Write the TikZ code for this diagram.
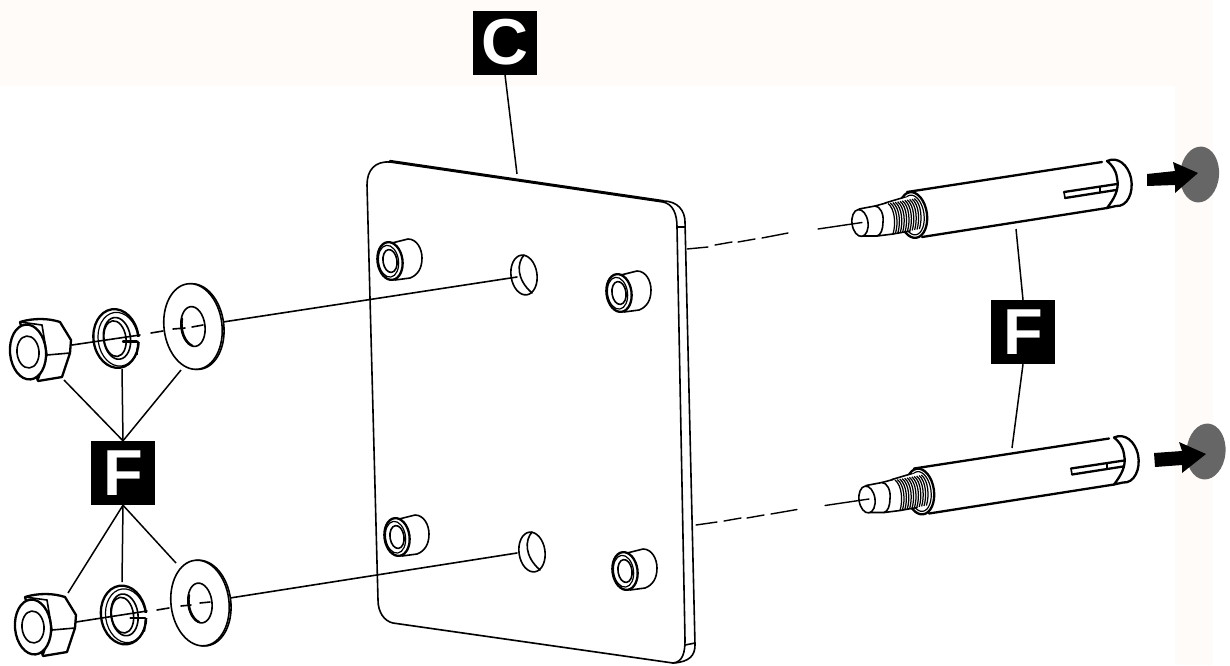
\documentclass[tikz,border=0pt]{standalone}
\usepackage{fontspec}
\setmainfont{Liberation Sans}
\definecolor{tint}{HTML}{FFFBF9}
\definecolor{disc}{HTML}{666666}
\tikzset{
  x=1pt,y=-1pt,
  ln/.style={line width=1.6pt,line cap=round,line join=round},
  thk/.style={line width=2.3pt,line cap=round,line join=round},
  thn/.style={line width=1.4pt,line cap=round},
  lead/.style={line width=1.5pt},
  tag/.style={fill=black,text=white,minimum size=64pt,inner sep=0pt,font=\fontsize{65}{65}\selectfont\bfseries},
  standoff/.pic={
    \draw[ln,fill=white] (2,-18) -- (18,-22) .. controls (27,-22) and (32,-12) .. (32,-3)
      .. controls (32,7) and (28,14) .. (20,17) -- (5,19);
    \draw[thk,fill=white,rotate=8] (0,0) circle[x radius=12.5,y radius=19];
    \draw[line width=1.2pt,rotate=8] (-1.5,0) circle[x radius=10,y radius=16];
    \draw[ln,rotate=8] (0,0) circle[x radius=7,y radius=11.5];
  },
  hole/.pic={
    \draw[ln,rotate=8] (0,0) circle[x radius=13,y radius=20];
    \draw[ln] (0,-20) .. controls (-7,-12) and (-8,4) .. (8,18);
  },
  flatw/.pic={
    \draw[ln,fill=white,rotate=7] (1.8,0.3) circle[x radius=29,y radius=43];
    \draw[ln,fill=white,rotate=7] (0,0) circle[x radius=29,y radius=43];
    \draw[ln,rotate=7] (0,0) circle[x radius=12,y radius=20];
    \draw[thk] (-11,-8) .. controls (-13,4) and (-8,16) .. (-1,19);
  },
  lockw/.pic={
    \draw[thk,fill=white,rotate=8] (0,0) circle[x radius=22.5,y radius=29.5];
    \draw[line width=1.2pt,rotate=8] (2,1) circle[x radius=20,y radius=27];
    \draw[ln,rotate=8] (1,0) circle[x radius=13.5,y radius=21];
    \draw[ln,rotate=8] (-1,0) circle[x radius=11,y radius=18];
    \fill[white] (16,-2) rectangle (24.5,3);
    \draw[thk] (7,3) -- (21,3);
    \draw[ln] (22,3) -- (21,16);
  },
  nutpic/.pic={
    \draw[thk,fill=white] (0,0) -- (-8,-30) .. controls (5,-34) and (20,-34) .. (32,-30) -- (43,-12) -- (42,1) -- (34,25) -- (10,29) -- cycle;
    \draw[ln] (-8,-30) -- (14,-27);
    \draw[ln] (14,-27) -- (19,3) -- (10,28);
    \draw[ln] (19,3) -- (42,1);
    \draw[thk,fill=white,rotate=5] (0,0) circle[x radius=18,y radius=27.5];
    \draw[ln,rotate=5] (0,0) circle[x radius=11,y radius=16];
  },
  anchorpic/.pic={
    % sleeve
    \draw[thk] (907,192) -- (1102,162);
    \draw[thk] (922,237) -- (1107,208);
    \draw[thk,fill=white] (1107,161) .. controls (1118,156) and (1128,165) .. (1131,178)
       .. controls (1134,193) and (1127,207) .. (1116,206) -- (1107,208)
       .. controls (1113,200) and (1120,190) .. (1117,178) .. controls (1116,170) and (1112,165) .. (1107,161);
    % slot
    \draw[thk] (1064,192) -- (1117,184);
    \draw[thk] (1065,198) -- (1116,190);
    \draw[ln] (1064,192) -- (1065,198);
    \draw[ln] (1100,187) -- (1100,192);
    % rear face
    \draw[thk,fill=white,rotate around={8:(913,215)}] (913,215) circle[x radius=14,y radius=23];
    \draw[line width=1.2pt,rotate around={8:(913,215)}] (913,215) circle[x radius=11,y radius=20];
    % thread body
    \fill[white] (885,203) -- (912,196) -- (921,215) -- (917,230) -- (893,234) -- cycle;
    \draw[ln] (885,203) -- (905,197);
    \draw[ln] (893,234) -- (910,231);
    \foreach \i in {0,...,11}
      \draw[line width=1.25pt] ({888+2.4*\i},{203.5-.45*\i}) .. controls ({895+2.4*\i},{209-.45*\i}) and ({896+2.4*\i},{224-.45*\i}) .. ({893+2.4*\i},{234-.45*\i});
    % neck and tip
    \draw[ln,fill=white] (859,209) -- (875,206) .. controls (880,206) and (884,214) .. (883,222)
       .. controls (883,229) and (881,235) .. (877,236) -- (863,236);
    \draw[ln] (875,206) -- (886,203);
    \draw[ln] (877,236) -- (893,234);
    \draw[ln,fill=white,rotate around={8:(860,223)}] (860,223) circle[x radius=8,y radius=13.5];
    \draw[thn] (818,229) -- (862,222.5);
  }
}
\begin{document}
\begin{tikzpicture}
\useasboundingbox (0,0) rectangle (1230,665);
\fill[white] (0,0) rectangle (1230,665);
\fill[tint] (0,0) rectangle (1213,86);
\fill[tint] (1175,86) rectangle (1213,665);

% grey discs
\fill[disc,rotate around={-5:(1199.5,174.5)}] (1199.5,174.5) circle[x radius=19.5,y radius=28];
\fill[disc,rotate around={-5:(1206,451.5)}] (1206,451.5) circle[x radius=19.5,y radius=28];
% arrows
\fill (1147,174) -- (1175,171) -- (1173,162) -- (1198,173) -- (1175,193) -- (1175,185) -- (1147,186) -- cycle;
\fill (1154,453) -- (1182,451) -- (1179,442) -- (1206,454) -- (1182,473) -- (1182,465) -- (1155,467) -- cycle;

% plate
\draw[ln,fill=white] (367,185) .. controls (367,170) and (375,161) .. (390,162) -- (663,202)
  .. controls (673,204) and (677,214) .. (677,227) -- (685,640) .. controls (685,652) and (683,662) .. (673,663)
  -- (393,623) .. controls (384,621) and (378,612) .. (378,600) -- cycle;
\draw[thk] (390,161) -- (663,201);
\draw[ln] (663,201) .. controls (678,201) and (685,211) .. (685,222) -- (695,645)
  .. controls (695,655) and (690,662) .. (673,663);
\draw[ln] (677,227) -- (685,227);
\draw[ln] (685,645) -- (695,643);

% holes, standoffs
\pic at (524,275) {hole};
\pic at (532,552) {hole};
\pic at (390,261) {standoff};
\pic at (619,293) {standoff};
\pic at (397,537) {standoff};
\pic at (625,571) {standoff};

% axis lines through holes
\draw[ln] (517,277) -- (223,322);
\draw[ln] (517,553) -- (230,598);

% right axes
\draw[thn] (687,249) -- (708,247);
\draw[thn] (715,245) -- (732,242);
\draw[thn] (738,242) -- (755,239);
\draw[thn] (762,238) -- (788,233);
\draw[thn] (696,525) -- (717,522);
\draw[thn] (724,521) -- (741,518);
\draw[thn] (747,518) -- (764,515);
\draw[thn] (771,514) -- (797,509.5);

% left hardware
\pic at (193,326.5) {flatw};
\pic at (200,603) {flatw};
\pic at (116,338.5) {lockw};
\pic at (123.5,615) {lockw};
\pic at (28,352) {nutpic};
\pic at (33,627) {nutpic};
\draw[ln] (72,345) -- (140,335);
\draw[ln] (151,333) -- (163,331);
\draw[ln] (173,329) -- (185,328);
\draw[ln] (192,327) -- (203,325);
\draw[ln] (76,622) -- (147,611);
\draw[ln] (157,610) -- (169,608);
\draw[ln] (181,606) -- (191,605);
\draw[ln] (200,603) -- (210,602);

% anchors
\pic at (0,0) {anchorpic};
\pic at (7,276.5) {anchorpic};

% labels
\node[tag] (tagC) at (505,42.5) {C};
\node[tag] (tagFleft) at (123,473) {F};
\node[tag] (tagFright) at (1023,332) {F};

\coordinate (c1) at (517,174);
\draw[lead] (tagC.south) -- (c1);
\coordinate (a1) at (64,380);
\coordinate (a2) at (122,369);
\coordinate (a3) at (181,370);
\coordinate (b1) at (68,593);
\coordinate (b2) at (122,582);
\coordinate (b3) at (176,563);
\draw[lead] (tagFleft.north) -- (a1);
\draw[lead] (tagFleft.north) -- (a2);
\draw[lead] (tagFleft.north) -- (a3);
\draw[lead] (tagFleft.south) -- (b1);
\draw[lead] (tagFleft.south) -- (b2);
\draw[lead] (tagFleft.south) -- (b3);
\coordinate (r1) at (1016,229);
\coordinate (r2) at (1012,448);
\draw[lead] (tagFright.north) -- (r1);
\draw[lead] (tagFright.south) -- (r2);
\end{tikzpicture}
\end{document}
